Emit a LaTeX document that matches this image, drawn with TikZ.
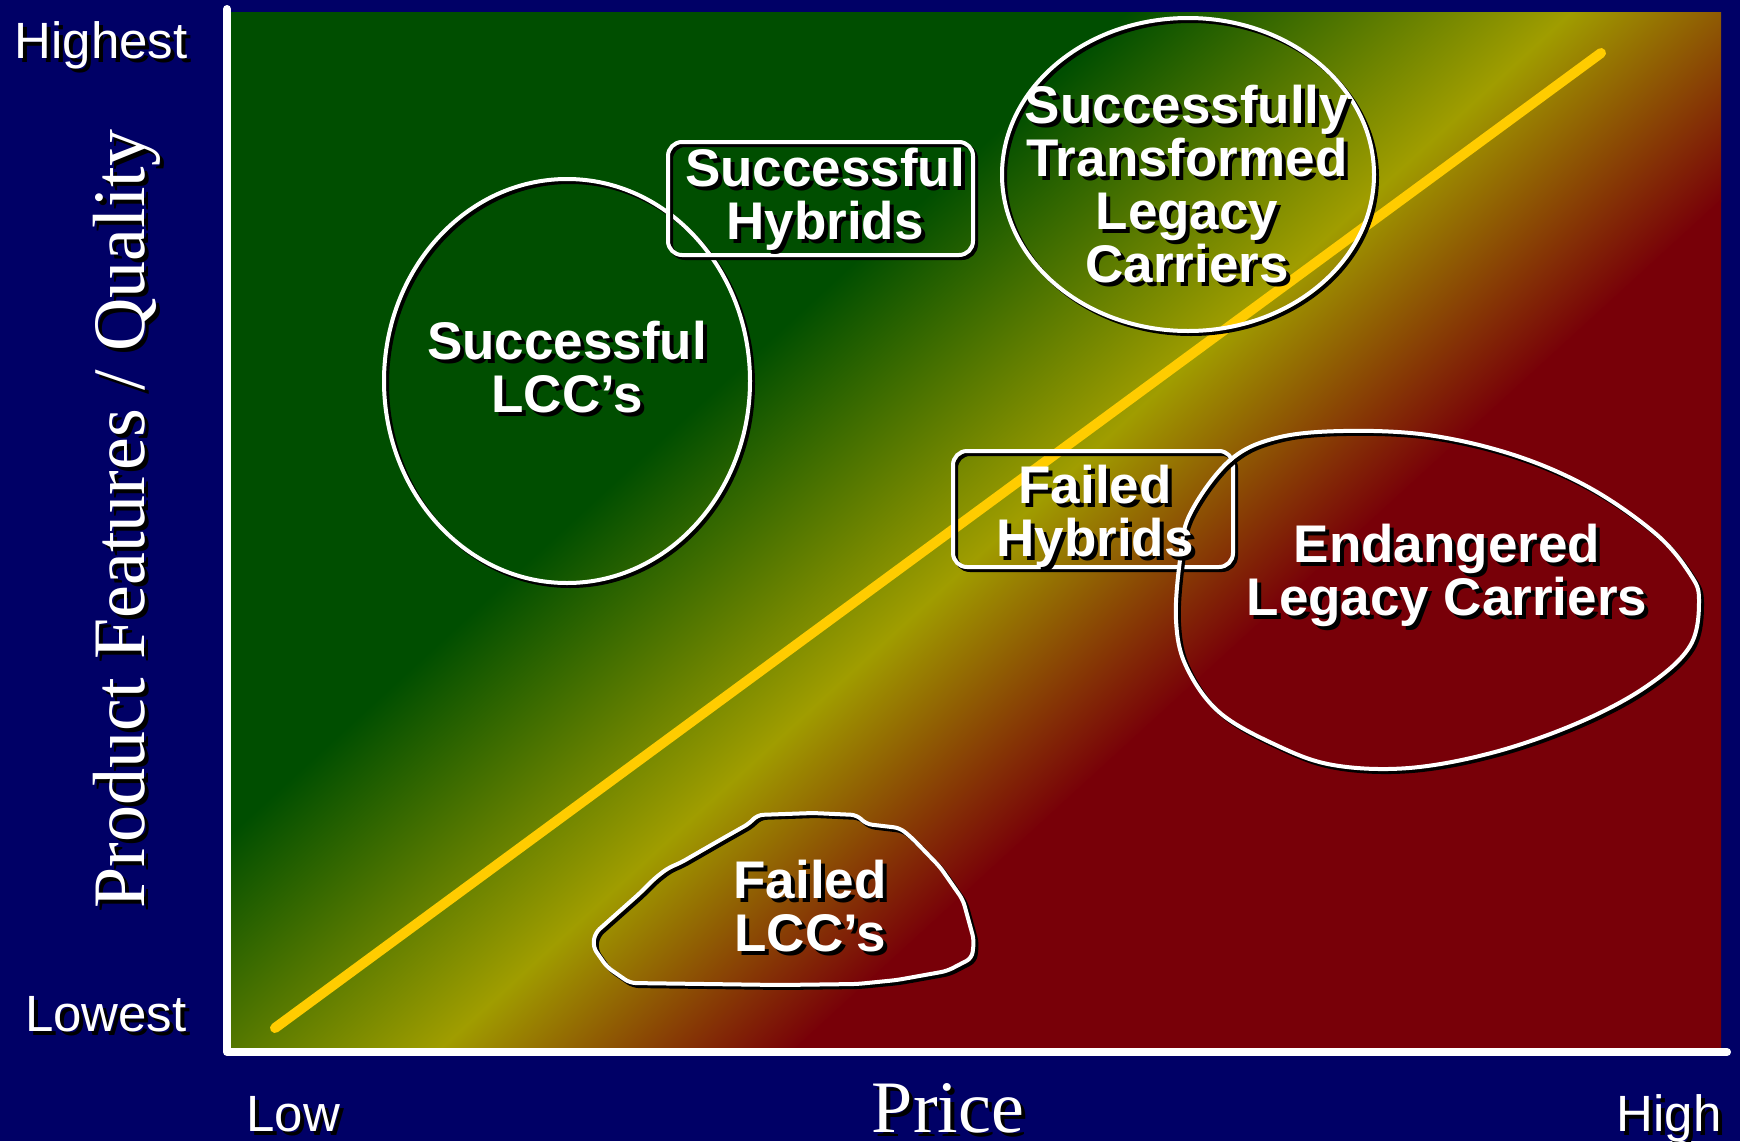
\documentclass[tikz,border=0pt]{standalone}
\usepackage{fontspec}
\setmainfont{Liberation Serif}
\setsansfont{Liberation Sans}
\usetikzlibrary{shapes.geometric}
\definecolor{bgnavy}{RGB}{0,0,102}
\definecolor{plotgreen}{RGB}{0,78,0}
\definecolor{plotyellow}{RGB}{160,157,0}
\definecolor{plotred}{RGB}{120,0,8}
\definecolor{diagline}{RGB}{255,204,0}
\newcommand\shlabel[4]{%
  \node[shift={(2pt,-2pt)},#2,text=black] (#1-sh) at (#3) {#4};
  \node[#2,text=white] (#1) at (#3) {#4};}

\begin{document}
\begin{tikzpicture}[x=0.5pt,y=-0.5pt,
    tick/.style={font=\sffamily\fontsize{25.5}{30}\selectfont,inner sep=0pt},
    axtitle/.style={font=\rmfamily\fontsize{37}{40}\selectfont,inner sep=0pt},
    region/.style={font=\sffamily\bfseries\fontsize{26.5}{26.5}\selectfont,align=center,inner sep=0pt},
    outline/.style={draw=white,line width=2pt,
      preaction={draw=black,line width=2pt,transform canvas={shift={(1.5pt,-1.5pt)}}}},
    axisline/.style={white,line width=4pt,line cap=round,line join=round},
    diag/.style={diagline,line width=5pt,line cap=round}]
    \useasboundingbox (0,0) rectangle (1740,1141);
    \fill[bgnavy] (0,0) rectangle (1740,1141);

    \begin{scope}
      \clip (229,12) rectangle (1721,1048);
      \begin{scope}[transform canvas={shift={(1000,535)},rotate=-47.5}]
        \fill[plotgreen] (-1300,-1300) rectangle (-298,1300);
        \shade[left color=plotgreen,right color=plotyellow] (-300,-1300) rectangle (1,1300);
        \shade[left color=plotyellow,right color=plotred] (0,-1300) rectangle (242,1300);
        \fill[plotred] (240,-1300) rectangle (1300,1300);
      \end{scope}
    \end{scope}

    \coordinate (lo) at (275,1028);
    \coordinate (hi) at (1601,53);
    \draw[diag] (lo) -- (hi);

    \coordinate (ytop) at (227,9);
    \coordinate (orig) at (227,1052);
    \coordinate (xend) at (1727,1052);
    \draw[axisline] (ytop) -- (orig) -- (xend);

    \node[ellipse,outline,inner sep=0pt,minimum width=183pt,minimum height=202pt] (slcc) at (567,381) {};
    \node[rectangle,rounded corners=7pt,outline,minimum width=152.5pt,minimum height=56.5pt] (shyb) at (820.5,198.5) {};
    \node[ellipse,outline,inner sep=0pt,minimum width=186pt,minimum height=156.5pt] (stlc) at (1188,174.5) {};
    \node[rectangle,rounded corners=7pt,outline,minimum width=140pt,minimum height=58pt] (fhyb) at (1093,509) {};
    \draw[outline] plot[smooth cycle,tension=0.6] coordinates {(1190,514) (1229,461) (1276,438)
      (1343,431) (1428,435) (1514,455) (1590,488) (1656,534) (1690,574) (1699,600) (1690,646)
      (1647,686) (1580,722) (1495,752) (1409,768) (1333,765) (1276,745) (1219,712) (1186,666)
      (1176,620) (1180,560)};
    \draw[outline,rounded corners=3pt] (595,933) -- (613,917) -- (640,893) -- (655,878) -- (668,868)
      -- (680,863) -- (720,840) -- (750,823) -- (757,815) -- (813,813) -- (857,815) -- (866,824)
      -- (900,828) -- (912,838) -- (940,867) -- (963,900) -- (974,940) -- (972,958) -- (947,971)
      -- (897,980) -- (857,984) -- (780,985) -- (630,983) -- (607,967) -- (593,947) -- cycle;

    \shlabel{slcc-t}{region}{567,367}{Successful\\LCC’s}
    \shlabel{shyb-t}{region}{825,199}{Successful\\Hybrids}
    \shlabel{stlc-t}{region}{1187,184}{Successfully\\Transformed\\Legacy\\Carriers}
    \shlabel{fhyb-t}{region}{1095,516}{Failed\\Hybrids}
    \shlabel{elc-t}{region}{1447,575}{Endangered\\Legacy Carriers}
    \shlabel{flcc-t}{region}{810,906}{Failed\\LCC’s}

    \shlabel{highest}{tick,anchor=base east}{188,58}{Highest}
    \shlabel{lowest}{tick,anchor=base east}{187,1031}{Lowest}
    \shlabel{low}{tick,anchor=base west}{246,1131}{Low}
    \shlabel{high}{tick,anchor=base east}{1722,1131}{High}
    \shlabel{price}{axtitle,anchor=base}{948,1132}{Price}
    \shlabel{quality}{axtitle,anchor=base,rotate=90}{144,519}{Product Features / Quality}
  \end{tikzpicture}
\end{document}
